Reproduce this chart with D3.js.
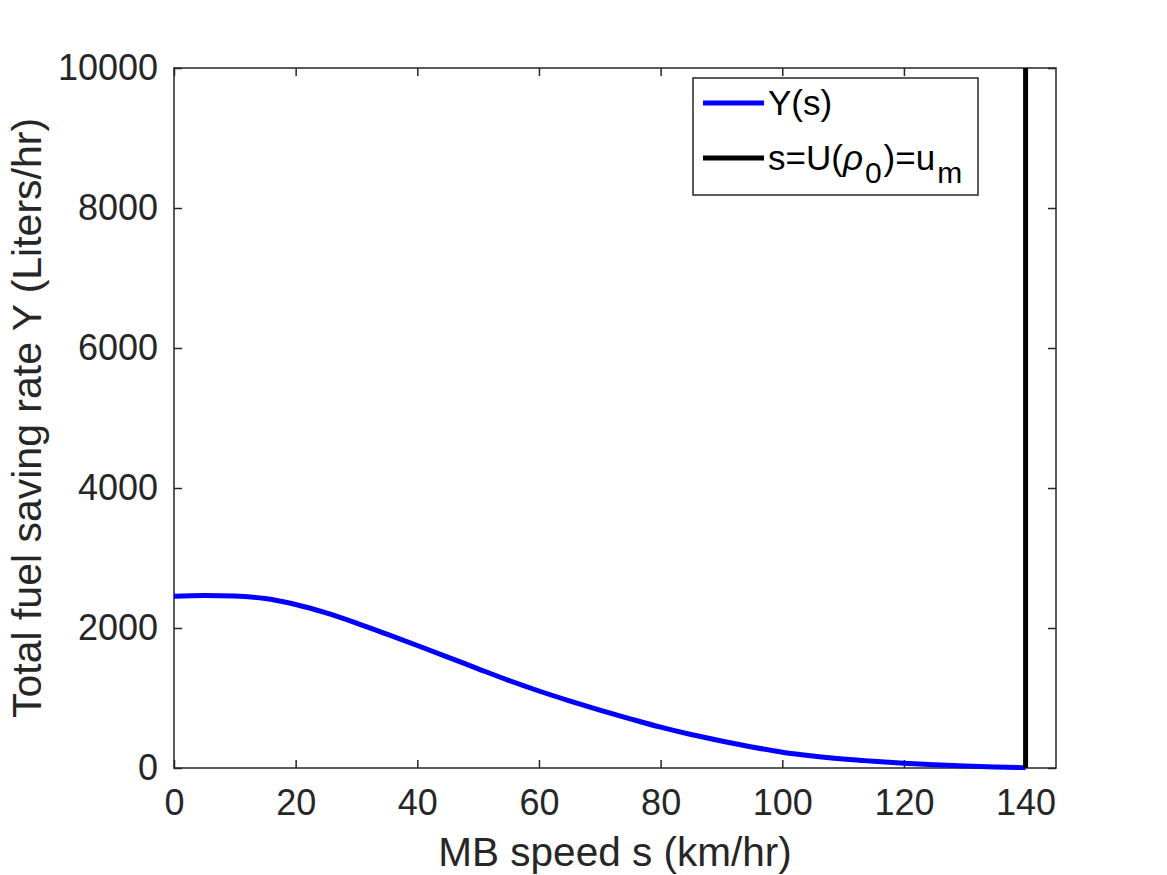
<!DOCTYPE html>
<html>
<head>
<meta charset="utf-8">
<script src="https://cdn.jsdelivr.net/npm/d3@7"></script>
<style>
  html, body { margin: 0; padding: 0; background: #fff; }
  svg { display: block; font-family: "Liberation Sans", Arial, Helvetica, sans-serif; }
</style>
</head>
<body>
<svg id="chart"></svg>
<script>
// speed s (km/hr) and the saving rate Y
const speeds = [0, 5, 10, 15, 20, 25, 30, 35, 40, 45, 50, 55, 60, 65, 70,
                75, 80, 85, 90, 95, 100, 105, 110, 115, 120, 125, 130, 135, 140]
const savingRate = [2455, 2463, 2458, 2420, 2335, 2215, 2070, 1912, 1750, 1585, 1417, 1252, 1100, 960, 828,
                    703, 583, 478, 386, 301, 226, 171, 129, 96, 69, 47, 29, 15, 5]
const umValue = 140
const xTicks = [0, 20, 40, 60, 80, 100, 120, 140]
const yTicks = [0, 2000, 4000, 6000, 8000, 10000]

const width = 1167, height = 875
const margin = {top: 68, right: 111, bottom: 107, left: 174}
const axisColor = '#262626'

let svg = d3.select('#chart')
            .attr('width', width)
            .attr('height', height)

let x = d3.scaleLinear().domain([0, 145]).range([margin.left, width - margin.right])
let y = d3.scaleLinear().domain([0, 10000]).range([height - margin.bottom, margin.top])

// box around plot area
svg.append('rect')
   .attr('x', x(0)).attr('y', y(10000))
   .attr('width', x(145) - x(0)).attr('height', y(0) - y(10000))
   .attr('fill', 'none')
   .attr('stroke', axisColor)
   .attr('stroke-width', 1.5)

// axes, ticks inward
let bottomAxis = d3.axisBottom(x).tickValues(xTicks).tickSize(-8).tickPadding(21).tickFormat(d3.format('d'))
let topAxis = d3.axisTop(x).tickValues(xTicks).tickSize(-8).tickFormat('')
let leftAxis = d3.axisLeft(y).tickValues(yTicks).tickSize(-8).tickPadding(16).tickFormat(d3.format('d'))
let rightAxis = d3.axisRight(y).tickValues(yTicks).tickSize(-8).tickFormat('')

function styleAxis(g) {
  g.select('.domain').remove()
  g.selectAll('line').attr('stroke', axisColor).attr('stroke-width', 1.5)
  g.selectAll('text').attr('fill', axisColor).style('font-size', '36px')
   .style('font-family', '"Liberation Sans", Arial, Helvetica, sans-serif')
}

svg.append('g').attr('transform', 'translate(0,' + y(0) + ')').call(bottomAxis).call(styleAxis)
svg.append('g').attr('transform', 'translate(0,' + y(10000) + ')').call(topAxis).call(styleAxis)
svg.append('g').attr('transform', 'translate(' + x(0) + ',0)').call(leftAxis).call(styleAxis)
svg.append('g').attr('transform', 'translate(' + x(145) + ',0)').call(rightAxis).call(styleAxis)

// the curve
let line = d3.line()
             .x((d, i) => x(speeds[i]))
             .y(d => y(d))
             .curve(d3.curveMonotoneX)

svg.append('path')
   .datum(savingRate)
   .attr('d', line)
   .attr('fill', 'none')
   .attr('stroke', '#0000ff')
   .attr('stroke-width', 5)

// vertical line at u_m
svg.append('line')
   .attr('x1', x(umValue)).attr('x2', x(umValue))
   .attr('y1', y(0)).attr('y2', y(10000))
   .attr('stroke', '#000')
   .attr('stroke-width', 5)

// axis labels
svg.append('text')
   .attr('x', (x(0) + x(145)) / 2)
   .attr('y', 866)
   .attr('text-anchor', 'middle')
   .attr('fill', axisColor)
   .style('font-size', '40.5px')
   .text('MB speed s (km/hr)')

svg.append('text')
   .attr('transform', 'translate(41,' + (y(0) + y(10000)) / 2 + ') rotate(-90)')
   .attr('text-anchor', 'middle')
   .attr('fill', axisColor)
   .style('font-size', '41px')
   .text('Total fuel saving rate Y (Liters/hr)')

// legend
let legend = svg.append('g')
legend.append('rect')
      .attr('x', 693).attr('y', 78)
      .attr('width', 285).attr('height', 117)
      .attr('fill', '#fff')
      .attr('stroke', axisColor)
      .attr('stroke-width', 1.5)

legend.append('line')
      .attr('x1', 703).attr('x2', 764).attr('y1', 103).attr('y2', 103)
      .attr('stroke', '#0000ff').attr('stroke-width', 5)
legend.append('text')
      .attr('x', 768).attr('y', 115)
      .attr('fill', '#000')
      .style('font-size', '35px')
      .text('Y(s)')

legend.append('line')
      .attr('x1', 703).attr('x2', 764).attr('y1', 158).attr('y2', 158)
      .attr('stroke', '#000').attr('stroke-width', 5)
let t2 = legend.append('text')
      .attr('x', 768).attr('y', 170)
      .attr('fill', '#000')
      .style('font-size', '35px')
t2.append('tspan').text('s=U(')
t2.append('tspan').style('font-style', 'italic').text('ρ')
t2.append('tspan').attr('dx', 2).attr('dy', 13).style('font-size', '30px').text('0')
t2.append('tspan').attr('dx', 2).attr('dy', -13).text(')=u')
t2.append('tspan').attr('dx', 2).attr('dy', 13).style('font-size', '30px').text('m')
</script>
</body>
</html>
